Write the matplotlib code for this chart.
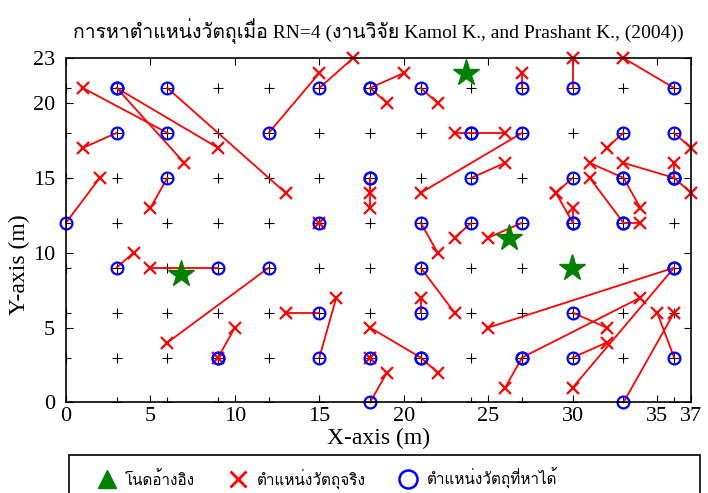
"""Object localisation result, RN=4 (Kamol K. and Prashant K., 2004)"""
import numpy as np
import matplotlib
matplotlib.use("Agg")
import matplotlib.pyplot as plt
from matplotlib.lines import Line2D
from matplotlib.patches import Rectangle
from matplotlib import font_manager
from matplotlib.ft2font import FT2Font

# pick up any installed family that can draw Thai
thai = []
for f in font_manager.fontManager.ttflist:
    try:
        if ord("ก") in FT2Font(f.fname).get_charmap() and f.name not in thai:
            thai.append(f.name)
    except Exception:
        pass
plt.rcParams["font.family"] = ["Liberation Serif"] + thai + ["DejaVu Sans"]

# reference nodes (stars)
ref_x = [6.8, 23.7, 26.2, 29.95]
ref_y = [8.6, 22.0, 11.0, 9.0]

# estimated positions (circles) and true positions (crosses), one pair per object
est_x = [0, 3, 6, 6, 3, 3, 6, 15, 12, 18, 18, 21, 24, 24, 18, 18, 27, 15, 21, 24,
         24, 27, 30, 36, 33, 36, 33, 33, 36, 36, 36, 30, 30, 30, 33, 33, 27, 36, 36, 30,
         30, 27, 27, 33, 36, 12, 21, 15, 21, 15, 21, 21, 18, 18, 3, 9, 9, 9]
est_y = [12, 18, 15, 21, 21, 21, 18, 21, 18, 21, 21, 21, 18, 18, 15, 15, 18, 12, 12, 12,
         15, 21, 21, 21, 18, 18, 15, 15, 15, 15, 15, 15, 12, 12, 12, 12, 12, 9, 9, 6,
         3, 3, 3, 0, 3, 9, 9, 6, 6, 3, 3, 3, 3, 0, 9, 9, 3, 3]
true_x = [2, 1, 5, 13, 7, 9, 1, 17, 15, 20, 19, 22, 23, 26, 18, 18, 21, 15, 22, 23,
          26, 27, 30, 33, 32, 37, 31, 34, 33, 36, 37, 29, 29, 30, 31, 34, 25, 25, 30, 32,
          32, 34, 26, 36, 35, 6, 23, 13, 21, 16, 18, 22, 18, 19, 4, 5, 9, 10]
true_y = [15, 17, 13, 14, 16, 17, 21, 23, 22, 22, 20, 20, 18, 18, 14, 13, 14, 12, 10, 11,
          16, 22, 23, 23, 17, 17, 16, 13, 16, 16, 14, 14, 14, 13, 15, 12, 11, 5, 1, 5,
          4, 7, 1, 6, 6, 4, 6, 6, 7, 7, 5, 2, 3, 2, 10, 9, 3, 5]

grid_x = np.arange(0, 37, 3)
grid_y = np.arange(0, 22, 3)

x_ticks = [0, 5, 10, 15, 20, 25, 30, 35, 37]
y_ticks = [0, 5, 10, 15, 20, 23]

title = "การหาตำแหน่งวัตถุเมื่อ RN=4 (งานวิจัย Kamol K., and Prashant K., (2004))"
labels = ["โนดอ้างอิง", "ตำแหน่งวัตถุจริง", "ตำแหน่งวัตถุที่หาได้"]

fig = plt.figure(figsize=(7.08, 4.93), dpi=100)
ax = fig.add_axes([0.0932, 0.1836, 0.8828, 0.6987])

gx, gy = np.meshgrid(grid_x, grid_y)
ax.plot(gx.ravel(), gy.ravel(), "+", color="black", ms=7, mew=0.8)

for ex, ey, tx, ty in zip(est_x, est_y, true_x, true_y):
    ax.plot([ex, tx], [ey, ty], "-", color="red", lw=1.3, clip_on=False)
ax.plot(true_x, true_y, "x", color="red", ms=8.5, mew=1.6, ls="none", clip_on=False)
ax.plot(est_x, est_y, "o", mfc="none", mec="blue", ms=8.5, mew=1.6, ls="none",
        clip_on=False)
ax.plot(ref_x, ref_y, "*", color="green", ms=20, ls="none", clip_on=False)

ax.set_xlim(0, 37)
ax.set_ylim(0, 23)
ax.set_xticks(x_ticks)
ax.set_yticks(y_ticks)
ax.tick_params(direction="in", top=True, right=True, length=5, labelsize=16)
ax.tick_params(axis="x", pad=3)
ax.tick_params(axis="y", pad=8)
for s in ax.spines.values():
    s.set_linewidth(1.2)

ax.set_title(title, fontsize=14, pad=14)
ax.set_xlabel("X-axis (m)", fontsize=17)
ax.set_ylabel("Y-axis (m)", fontsize=17)
ax.xaxis.set_label_coords(0.5, -0.075)
ax.yaxis.set_label_coords(-0.058, 0.4)

handles = [
    Line2D([], [], marker="^", color="green", ls="none", ms=13),
    Line2D([], [], marker="x", color="red", ls="none", ms=12, mew=2),
    Line2D([], [], marker="o", mfc="none", mec="blue", ls="none", ms=13, mew=1.8),
]
fig.add_artist(Rectangle((0.0975, -0.02), 0.891, 0.097, transform=fig.transFigure,
                         fill=False, ec="black", lw=1.2))
fig.legend(handles, labels, ncol=3, frameon=False, loc="center left",
           bbox_to_anchor=(0.11, 0.03), fontsize=11, handletextpad=0.2,
           columnspacing=1.8)

fig.savefig("out.png", dpi=100)
